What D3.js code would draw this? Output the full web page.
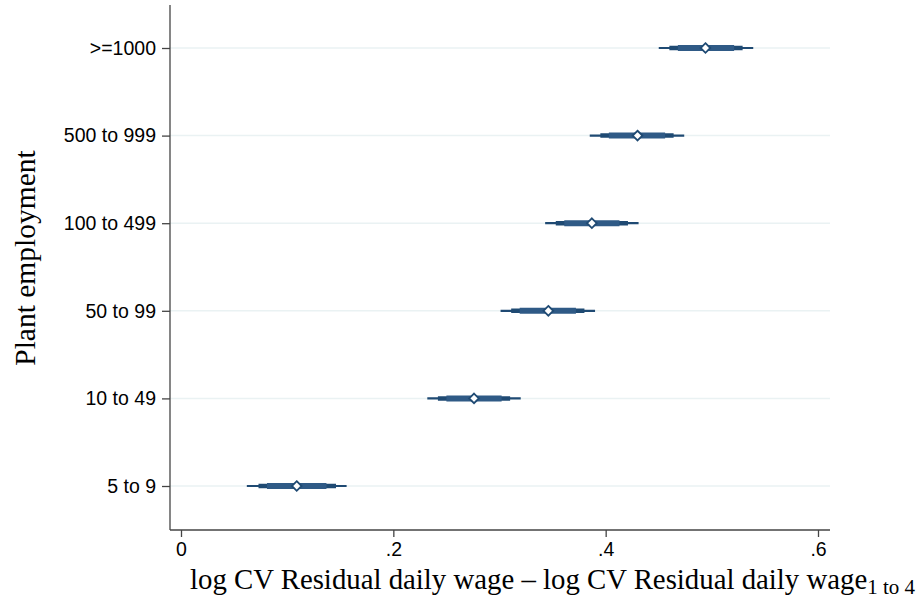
<!DOCTYPE html>
<html>
<head>
<meta charset="utf-8">
<script src="https://cdn.jsdelivr.net/npm/d3@7"></script>
<style>
  body { margin: 0; background: #fff; }
  svg { display: block; }
</style>
</head>
<body>
<div id="chart"></div>
<script>
// categories, bottom to top
let categories = ["5 to 9", "10 to 49", "50 to 99", "100 to 499", "500 to 999", ">=1000"];
let estimates = [0.109, 0.276, 0.346, 0.387, 0.430, 0.494];
// 99.9% interval (thin line)
let lo999 = [0.062, 0.232, 0.301, 0.343, 0.385, 0.450];
let hi999 = [0.156, 0.320, 0.390, 0.431, 0.474, 0.539];
// 99% interval (medium line)
let lo99 = [0.073, 0.242, 0.311, 0.353, 0.395, 0.460];
let hi99 = [0.146, 0.310, 0.380, 0.421, 0.464, 0.529];
// 95% interval (thick line)
let lo95 = [0.081, 0.250, 0.319, 0.361, 0.403, 0.468];
let hi95 = [0.137, 0.302, 0.372, 0.413, 0.456, 0.521];
let xTicks = [0, 0.2, 0.4, 0.6];

let width = 924, height = 601;
let svg = d3.select("#chart").append("svg")
  .attr("width", width)
  .attr("height", height);

let x = d3.scaleLinear().domain([0, 0.6]).range([181, 818]);
let y = d3.scalePoint().domain(categories).range([486, 48]);

let plotLeft = 170, plotRight = 830, plotTop = 5, plotBottom = 530;

// gridlines
svg.append("g")
  .selectAll("line")
  .data(categories)
  .enter()
  .append("line")
  .attr("x1", plotLeft)
  .attr("x2", plotRight)
  .attr("y1", d => y(d))
  .attr("y2", d => y(d))
  .attr("stroke", "#eaf2f3")
  .attr("stroke-width", 1.5);

// y axis
let yAxis = d3.axisLeft(y).tickSize(8).tickPadding(6);
let yg = svg.append("g")
  .attr("transform", `translate(${plotLeft},0)`)
  .call(yAxis);
yg.select(".domain").remove();
yg.append("line")
  .attr("x1", 0).attr("x2", 0)
  .attr("y1", plotTop).attr("y2", plotBottom)
  .attr("stroke", "#444").attr("stroke-width", 1.3);
yg.selectAll(".tick line").attr("stroke", "#444").attr("stroke-width", 1.3);
yg.selectAll(".tick text")
  .attr("font-family", "Liberation Sans, Arial, sans-serif")
  .attr("font-size", "19.5px")
  .attr("fill", "#000");

// x axis
let xAxis = d3.axisBottom(x)
  .tickValues(xTicks)
  .tickSize(7)
  .tickPadding(5)
  .tickFormat(d => d === 0 ? "0" : d3.format(".1f")(d).replace(/^0/, ""));
let xg = svg.append("g")
  .attr("transform", `translate(0,${plotBottom})`)
  .call(xAxis);
xg.select(".domain").remove();
xg.append("line")
  .attr("x1", plotLeft).attr("x2", plotRight)
  .attr("y1", 0).attr("y2", 0)
  .attr("stroke", "#444").attr("stroke-width", 1.3);
xg.selectAll(".tick line").attr("stroke", "#444").attr("stroke-width", 1.3);
xg.selectAll(".tick text")
  .attr("font-family", "Liberation Sans, Arial, sans-serif")
  .attr("font-size", "19.5px")
  .attr("fill", "#000");

// confidence intervals
let rows = categories.map((c, i) => ({
  cat: c, est: estimates[i],
  lo999: lo999[i], hi999: hi999[i],
  lo99: lo99[i], hi99: hi99[i],
  lo95: lo95[i], hi95: hi95[i]
}));

let marks = svg.append("g");
let levels = [
  { lo: "lo999", hi: "hi999", w: 2.2, c: "#1f4a73" },
  { lo: "lo99", hi: "hi99", w: 4.5, c: "#1f4a73" },
  { lo: "lo95", hi: "hi95", w: 6, c: "#2f5a86" }
];
levels.forEach(l => {
  marks.selectAll(null)
    .data(rows)
    .enter()
    .append("line")
    .attr("x1", d => x(d[l.lo]))
    .attr("x2", d => x(d[l.hi]))
    .attr("y1", d => y(d.cat))
    .attr("y2", d => y(d.cat))
    .attr("stroke", l.c)
    .attr("stroke-width", l.w);
});

// point estimates
marks.selectAll("path.est")
  .data(rows)
  .enter()
  .append("path")
  .attr("class", "est")
  .attr("d", d3.symbol().type(d3.symbolDiamond2).size(60))
  .attr("transform", d => `translate(${x(d.est)},${y(d.cat)})`)
  .attr("fill", "#fff")
  .attr("stroke", "#1f4a73")
  .attr("stroke-width", 1.8);

// axis titles
svg.append("text")
  .attr("transform", `translate(35,258) rotate(-90)`)
  .attr("text-anchor", "middle")
  .attr("font-family", "Liberation Serif, Times New Roman, serif")
  .attr("font-size", "29.5px")
  .attr("fill", "#000")
  .text("Plant employment");

let xt = svg.append("text")
  .attr("x", 190)
  .attr("y", 589)
  .attr("font-family", "Liberation Serif, Times New Roman, serif")
  .attr("font-size", "28.8px")
  .attr("fill", "#000");
xt.append("tspan").text("log CV Residual daily wage \u2013 log CV Residual daily wage");
xt.append("tspan")
  .attr("font-size", "21px")
  .attr("dy", 5)
  .text("1 to 4");
</script>
</body>
</html>
